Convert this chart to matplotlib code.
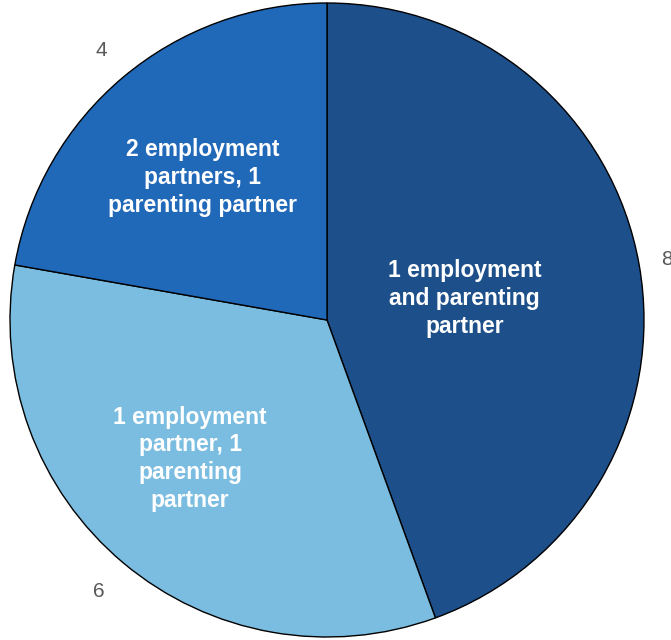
import matplotlib
matplotlib.use("Agg")
import matplotlib.pyplot as plt
import numpy as np

plt.rcParams["font.family"] = ["Liberation Sans", "DejaVu Sans"]

values = [8, 6, 4]
names = [
    "1 employment\nand parenting\npartner",
    "1 employment\npartner, 1\nparenting\npartner",
    "2 employment\npartners, 1\nparenting partner",
]
colors = ["#1d4f8a", "#7bbde0", "#2068b8"]

# where the slice names sit: fraction of the radius, and a nudge off the slice bisector (degrees)
name_radius = [0.44, 0.615, 0.597]
name_shift = [-1.0, -4.6, 1.0]
value_radius = [1.09, 1.12, 1.11]

fig = plt.figure(figsize=(6.71, 6.40), dpi=100)
ax = fig.add_axes([10 / 671, 3 / 640, 634 / 671, 634 / 640])

wedges, texts = ax.pie(
    values,
    labels=[str(v) for v in values],
    colors=colors,
    startangle=90,
    counterclock=False,
    labeldistance=1.1,
    wedgeprops=dict(edgecolor="black", linewidth=1),
    textprops=dict(color="#595959", fontsize=15),
)

for w, t, r in zip(wedges, texts, value_radius):
    mid = np.deg2rad((w.theta1 + w.theta2) / 2)
    t.set_position((r * np.cos(mid), r * np.sin(mid)))
    t.set_ha("center")
    t.set_va("center")

for w, name, r, d in zip(wedges, names, name_radius, name_shift):
    mid = np.deg2rad((w.theta1 + w.theta2) / 2 + d)
    ax.text(r * np.cos(mid), r * np.sin(mid), name, ha="center", va="center",
            color="white", fontsize=16.5, fontweight="bold", linespacing=1.27)

ax.set_xlim(-1, 1)
ax.set_ylim(-1, 1)
fig.savefig("out.png", dpi=100)
